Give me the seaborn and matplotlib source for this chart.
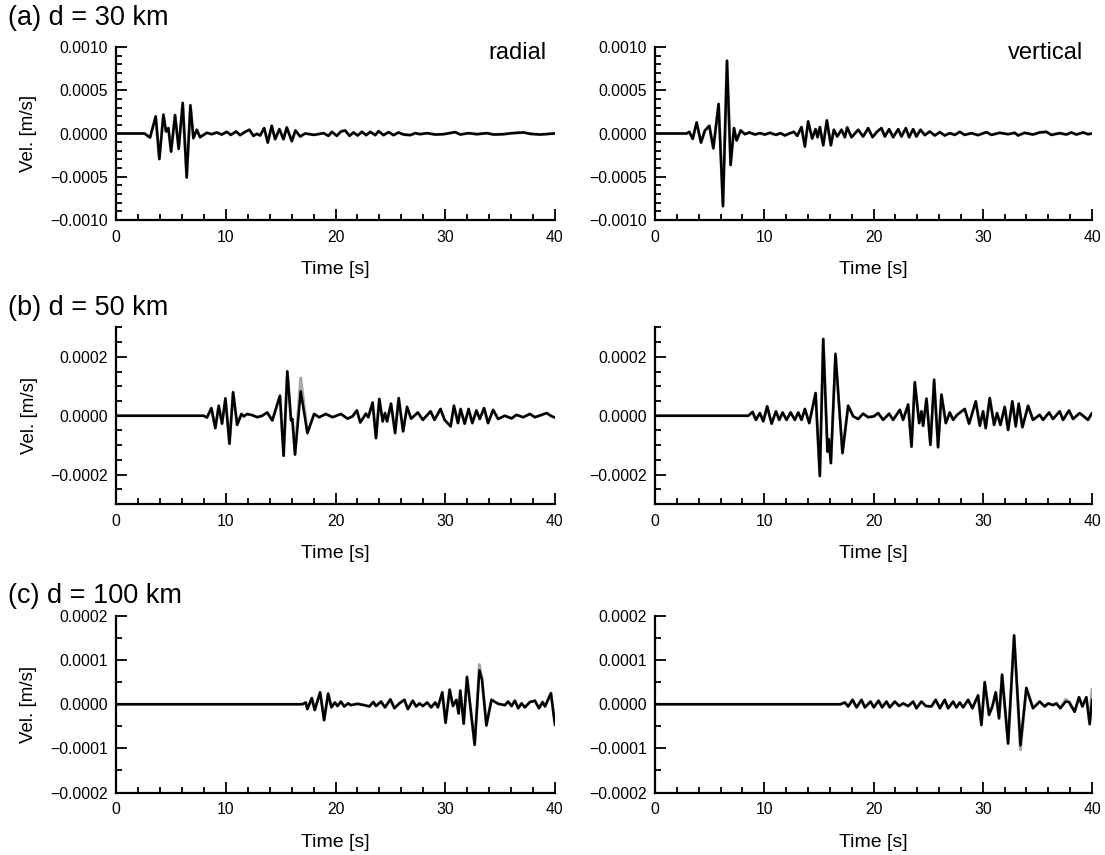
import numpy as np
import matplotlib
matplotlib.use("Agg")
import matplotlib.pyplot as plt
import seaborn as sns
from matplotlib.ticker import MultipleLocator, FuncFormatter

# velocity values are given in units of 1e-4 m/s
VEL_UNIT = 1e-4

# ---------------- (a) d = 30 km ----------------
a_rad_t = [0, 2.6, 3.10, 3.62, 3.95, 4.32, 4.56, 4.77, 5.02, 5.38, 5.71, 6.08, 6.44, 6.78, 7.05, 7.36, 7.66,
           8.27, 8.72, 9.18, 9.64, 10.09, 10.46, 10.94, 11.31, 11.76, 12.16, 12.52, 12.83, 13.13,
           13.50, 13.83, 14.19, 14.50, 14.89, 15.26, 15.56, 16.02, 16.35, 16.78,
           17.23, 18.05, 18.91, 19.36, 19.67, 20.12, 20.49, 20.88, 21.28, 21.64, 22.01, 22.40, 22.80,
           23.16, 23.62, 23.92, 24.38, 24.83, 25.29, 25.74, 26.20, 26.81, 27.27, 27.72, 28.33, 29.09,
           29.85, 30.91, 31.37, 32.13, 32.89, 33.80, 34.41, 35.32, 36.08, 37.14, 37.75, 38.66, 39.88, 40.0]
a_rad_v = [0, 0, -0.47, 1.98, -2.95, 2.17, 0.23, 0.62, -2.09, 2.13, -1.78, 3.53, -5.08, 3.26, -0.54, 0.43, -0.43,
           0.08, -0.08, 0.12, -0.12, 0.19, -0.16, 0.23, -0.19, 0.19, 0.43, -0.27, -0.04, -0.23,
           0.62, -1.05, 0.89, -0.66, 0.50, -0.66, 0.70, -0.89, 0.35, -0.35,
           0.0, -0.16, 0.04, -0.27, 0.19, -0.27, 0.23, 0.35, -0.27, 0.12, -0.23, 0.19, -0.19,
           0.19, -0.19, 0.27, -0.19, 0.16, -0.19, 0.12, -0.12, -0.19, 0.04, -0.08, 0.04, -0.12,
           -0.08, 0.16, -0.12, 0.04, -0.08, 0.04, -0.12, -0.08, 0.04, 0.12, -0.04, -0.12, 0.0, 0.0]

a_ver_t = [0, 2.90, 3.14, 3.45, 3.81, 4.21, 4.57, 4.97, 5.34, 5.82, 6.22, 6.59, 6.92, 7.23, 7.47, 7.84,
           8.23, 8.63, 9.15, 9.60, 10.06, 10.52, 11.07, 11.49, 11.89, 12.29, 12.71, 13.02,
           13.41, 13.72, 14.02, 14.39, 14.70, 14.88, 15.09, 15.40, 15.73, 16.10, 16.37, 16.68, 17.07, 17.38,
           17.59, 17.99, 18.60, 19.05, 19.51, 19.91, 20.34, 20.73, 21.04, 21.43, 21.80, 22.26, 22.56,
           22.96, 23.26, 23.63, 23.93, 24.30, 24.70, 25.15, 25.61, 26.07, 26.52, 26.98, 27.44, 27.90,
           28.35, 28.96, 29.57, 30.34, 30.79, 31.55, 32.32, 32.93, 33.23, 33.84, 34.60, 35.21, 35.82,
           36.28, 37.04, 37.65, 38.11, 38.57, 39.18, 39.63, 40.0]
a_ver_v = [0, 0, 0.19, -0.62, 1.28, -1.05, 0.35, 0.89, -1.71, 3.41, -8.41, 8.41, -3.64, 0.62, -0.81, 0.35,
           -0.08, 0.12, -0.12, 0.04, -0.12, 0.08, -0.16, 0.04, -0.23, 0.0, 0.19, -0.27,
           0.74, -1.51, 1.40, -0.58, 0.50, -0.43, 0.74, -1.36, 1.51, -1.36, 0.43, -0.35, 0.43, -0.43,
           0.70, -0.43, 0.43, -0.35, 0.62, -0.43, 0.23, 0.62, -0.35, 0.50, -0.43, 0.50, -0.35,
           0.62, -0.43, 0.50, -0.35, 0.43, -0.19, 0.23, -0.23, 0.16, -0.23, 0.04, -0.16, 0.19,
           -0.16, 0.04, -0.19, 0.16, -0.16, 0.08, -0.08, 0.08, -0.23, 0.08, -0.12, 0.12, 0.19,
           -0.16, 0.04, -0.12, 0.12, -0.12, 0.12, -0.08, 0.0]

# ---------------- (b) d = 50 km ----------------
b_rad_t = [0, 7.68, 7.99, 8.29, 8.69, 9.05, 9.36, 9.66, 9.97, 10.34, 10.67, 11.04, 11.43, 11.65, 11.95, 12.41,
           12.87, 13.32, 13.78, 14.24, 14.94, 15.27, 15.61, 15.95, 16.07, 16.31, 16.83, 17.44, 18.05,
           18.51, 19.12, 19.73, 20.49, 21.10, 21.55, 21.95, 22.26, 22.77, 22.99, 23.38, 23.69, 23.99,
           24.30, 24.51, 24.70, 25.06, 25.43, 25.76, 26.16, 26.52, 26.89, 27.50, 27.96, 28.66, 29.02,
           29.57, 29.94, 30.49, 30.79, 31.16, 31.40, 31.77, 32.13, 32.47, 32.84, 33.14, 33.54, 33.90,
           34.36, 34.82, 35.43, 36.04, 36.49, 37.10, 37.71, 38.17, 38.78, 39.24, 39.70, 40.0]
b_rad_v = [0, 0, 0, -0.06, 0.26, -0.42, 0.34, -0.27, 0.59, -0.95, 0.80, -0.31, 0.06, -0.02, 0.06, 0.02,
           -0.05, 0.0, 0.11, -0.16, 0.68, -1.36, 1.51, -0.16, -0.11, -1.32, 0.83, -0.59, 0.06,
           -0.05, 0.06, -0.05, 0.06, -0.10, -0.02, 0.18, -0.23, 0.07, -0.05, 0.45, -0.76, 0.57,
           -0.19, 0.09, -0.19, 0.41, -0.59, 0.60, -0.53, 0.30, -0.10, 0.11, -0.14, 0.15, -0.14,
           0.23, -0.14, -0.36, 0.34, -0.25, 0.23, -0.27, 0.23, -0.25, 0.18, -0.11, 0.26, -0.25,
           0.20, -0.11, 0.0, -0.09, 0.03, -0.05, 0.06, -0.05, 0.03, 0.09, -0.02, -0.06]

b_ver_t = [0, 8.08, 8.54, 8.93, 9.24, 9.60, 9.91, 10.27, 10.67, 11.07, 11.37, 11.68, 12.04, 12.41, 12.80,
           13.11, 13.41, 13.72, 14.12, 14.70, 15.09, 15.40, 15.79, 15.91, 16.10, 16.52, 17.16, 17.68,
           18.14, 18.60, 19.05, 19.51, 20.03, 20.43, 20.88, 21.43, 21.80, 22.41, 22.71, 23.17, 23.48,
           23.78, 24.18, 24.39, 24.54, 24.85, 25.21, 25.55, 25.91, 26.22, 26.62, 26.98, 27.29, 27.65,
           28.35, 28.75, 29.36, 29.73, 30.03, 30.27, 30.64, 31.04, 31.31, 31.62, 32.01, 32.32, 32.71,
           33.02, 33.29, 33.63, 34.15, 34.60, 35.21, 35.52, 36.07, 36.43, 37.04, 37.35, 37.90, 38.26,
           38.87, 39.18, 39.63, 40.0]
b_ver_v = [0, 0, 0, 0.13, -0.14, 0.09, -0.19, 0.32, -0.27, 0.15, -0.14, 0.11, -0.14, 0.11, -0.14,
           0.11, -0.14, 0.23, -0.25, 0.77, -2.05, 2.61, -1.22, -0.80, -1.61, 2.11, -1.27, 0.34,
           -0.02, -0.11, 0.07, -0.05, -0.02, 0.09, -0.14, 0.07, -0.14, 0.20, -0.14, 0.38, -1.05,
           1.14, -0.25, 0.15, -0.34, 0.58, -0.99, 1.23, -1.07, 0.72, -0.25, 0.11, -0.14, 0.03,
           0.23, -0.27, 0.49, -0.34, 0.15, -0.42, 0.60, -0.31, 0.09, -0.31, 0.30, -0.48, 0.49,
           -0.36, 0.41, -0.39, 0.34, -0.14, 0.03, -0.14, 0.11, -0.11, 0.15, -0.14, 0.18, -0.11,
           0.09, 0.0, -0.14, 0.09]

# ---------------- (c) d = 100 km ----------------
c_rad_t = [0, 16.98, 17.29, 17.44, 17.84, 18.11, 18.60, 18.96, 19.33, 19.63, 19.94, 20.18, 20.49, 20.79,
           21.16, 21.40, 22.01, 22.62, 23.08, 23.45, 23.69, 24.15, 24.51, 25.00, 25.37, 25.82, 26.28,
           26.59, 27.04, 27.35, 27.65, 27.96, 28.35, 28.72, 29.09, 29.33, 29.73, 30.03, 30.40, 30.70,
           31.01, 31.22, 31.37, 31.68, 31.98, 32.32, 32.68, 33.11, 33.35, 33.75, 34.21, 34.82, 35.43,
           35.73, 36.04, 36.34, 36.65, 36.95, 37.26, 37.71, 38.17, 38.54, 38.87, 39.09, 39.63, 40.0]
c_rad_v = [0, 0, 0.04, -0.11, 0.14, -0.13, 0.27, -0.36, 0.24, -0.07, 0.04, -0.04, 0.06, -0.05,
           0.02, -0.02, 0.01, -0.02, -0.05, 0.05, -0.04, 0.06, -0.07, 0.11, -0.09, 0.02, 0.10,
           -0.11, 0.08, -0.05, 0.02, -0.04, 0.04, -0.07, 0.04, -0.07, 0.27, -0.42, 0.33, -0.04,
           0.10, -0.21, 0.31, -0.44, 0.62, -0.13, -0.92, 0.77, 0.56, -0.48, 0.10, 0.01, -0.02,
           0.06, -0.04, 0.08, -0.09, 0.02, -0.07, 0.05, 0.08, -0.09, 0.05, -0.05, 0.25, -0.47]

c_ver_t = [0, 16.98, 17.38, 17.68, 18.08, 18.45, 18.90, 19.21, 19.73, 20.03, 20.46, 20.79, 21.19, 21.49,
           21.95, 22.35, 22.71, 23.17, 23.63, 23.93, 24.39, 24.79, 25.30, 25.70, 26.07, 26.52, 26.83,
           27.29, 27.59, 27.90, 28.20, 28.66, 29.05, 29.57, 29.88, 30.18, 30.58, 30.88, 31.19, 31.49,
           31.77, 32.32, 32.87, 33.45, 33.99, 34.60, 35.21, 35.67, 35.98, 36.43, 36.74, 37.10, 37.59,
           37.90, 38.41, 38.81, 39.12, 39.48, 39.79, 40.0]
c_ver_v = [0, 0, 0.04, -0.05, 0.10, -0.07, 0.10, -0.07, 0.06, -0.07, 0.08, -0.07, 0.06, -0.07,
           0.06, -0.04, 0.02, -0.04, 0.06, -0.09, 0.06, -0.04, -0.05, 0.10, -0.09, 0.10, -0.09,
           0.06, -0.07, 0.04, -0.07, 0.10, -0.09, 0.20, -0.47, 0.50, -0.24, -0.05, 0.27, -0.32,
           0.67, -0.89, 1.56, -0.93, 0.37, -0.09, 0.06, -0.05, 0.02, -0.02, 0.02, -0.09, 0.06,
           0.05, -0.17, 0.16, -0.05, 0.16, -0.45, 0.10]

# reference (gray) trace: equals the black trace except at these (time, value) points
b_rad_gray = [(16.83, 1.28)]
b_ver_gray = [(16.52, 2.05), (25.55, 1.15)]
c_rad_gray = [(33.11, 0.90)]
c_ver_gray = [(33.45, -1.03), (37.59, 0.11), (40.0, 0.34)]
a_rad_gray = []
a_ver_gray = []

panel_titles = ["(a) d = 30 km", "(b) d = 50 km", "(c) d = 100 km"]
component_labels = ["radial", "vertical"]
y_limits = [0.0010, 0.0003, 0.0002]
y_major = [0.0005, 0.0002, 0.0001]
y_minor = [0.0001, 0.00005, 0.00005]

traces = [
    [(a_rad_t, a_rad_v, a_rad_gray), (a_ver_t, a_ver_v, a_ver_gray)],
    [(b_rad_t, b_rad_v, b_rad_gray), (b_ver_t, b_ver_v, b_ver_gray)],
    [(c_rad_t, c_rad_v, c_rad_gray), (c_ver_t, c_ver_v, c_ver_gray)],
]

sns.set_style("ticks")
plt.rcParams["font.family"] = ["Liberation Sans", "DejaVu Sans"]
plt.rcParams["axes.unicode_minus"] = True
plt.rcParams["text.color"] = "black"
plt.rcParams["axes.labelcolor"] = "black"
plt.rcParams["xtick.color"] = "black"
plt.rcParams["ytick.color"] = "black"

W, H = 1105, 855
fig = plt.figure(figsize=(W / 100, H / 100), dpi=100)

col_px = [(116, 555), (655, 1092)]
row_px = [(47, 220), (327.5, 504), (616, 792.5)]
title_y = [18, 308, 596]


def yfmt(v, pos):
    s = "%.4f" % abs(v)
    if abs(v) < 1e-12:
        return "0.0000"
    return ("\u2212" + s) if v < 0 else s


for r in range(3):
    fig.text(8 / W, 1 - title_y[r] / H, panel_titles[r], fontsize=19.5, ha="left", va="center",
             color="black")
    for c in range(2):
        x0, x1 = col_px[c]
        top, bot = row_px[r]
        ax = fig.add_axes([x0 / W, 1 - bot / H, (x1 - x0) / W, (bot - top) / H])
        t, v, gray_over = traces[r][c]
        t = np.asarray(t, dtype=float)
        v = np.asarray(v, dtype=float)
        g = v.copy()
        for tt, gv in gray_over:
            idx = int(np.argmin(np.abs(t - tt)))
            g[idx] = gv
        sns.lineplot(x=t, y=g * VEL_UNIT, ax=ax, color="#a8a8a8", lw=2.2,
                     estimator=None, sort=False)
        sns.lineplot(x=t, y=v * VEL_UNIT, ax=ax, color="black", lw=1.8,
                     estimator=None, sort=False)
        ax.set_xlim(0, 40)
        ax.set_ylim(-y_limits[r], y_limits[r])
        ax.xaxis.set_major_locator(MultipleLocator(10))
        ax.xaxis.set_minor_locator(MultipleLocator(2))
        ax.yaxis.set_major_locator(MultipleLocator(y_major[r]))
        ax.yaxis.set_minor_locator(MultipleLocator(y_minor[r]))
        ax.yaxis.set_major_formatter(FuncFormatter(yfmt))
        ax.xaxis.set_major_formatter(FuncFormatter(lambda x, p: "%d" % round(x)))
        ax.tick_params(which="both", direction="in", top=False, right=False,
                       labelsize=11.3, width=1.3, colors="black")
        ax.tick_params(which="major", length=8, pad=6)
        ax.tick_params(axis="x", which="major", pad=7)
        ax.tick_params(which="minor", length=4)
        sns.despine(ax=ax)
        for s in ("left", "bottom"):
            ax.spines[s].set_linewidth(1.6)
            ax.spines[s].set_color("black")
        ax.set_xlabel("Time [s]", fontsize=14, labelpad=12)
        if c == 0:
            ax.set_ylabel("Vel. [m/s]", fontsize=13.5, labelpad=9)
        else:
            ax.set_ylabel("")
        if r == 0:
            ax.text(0.98, 0.965, component_labels[c], transform=ax.transAxes,
                    ha="right", va="center", fontsize=17, color="black")
        ax.grid(False)

fig.savefig("out.png", dpi=100)
